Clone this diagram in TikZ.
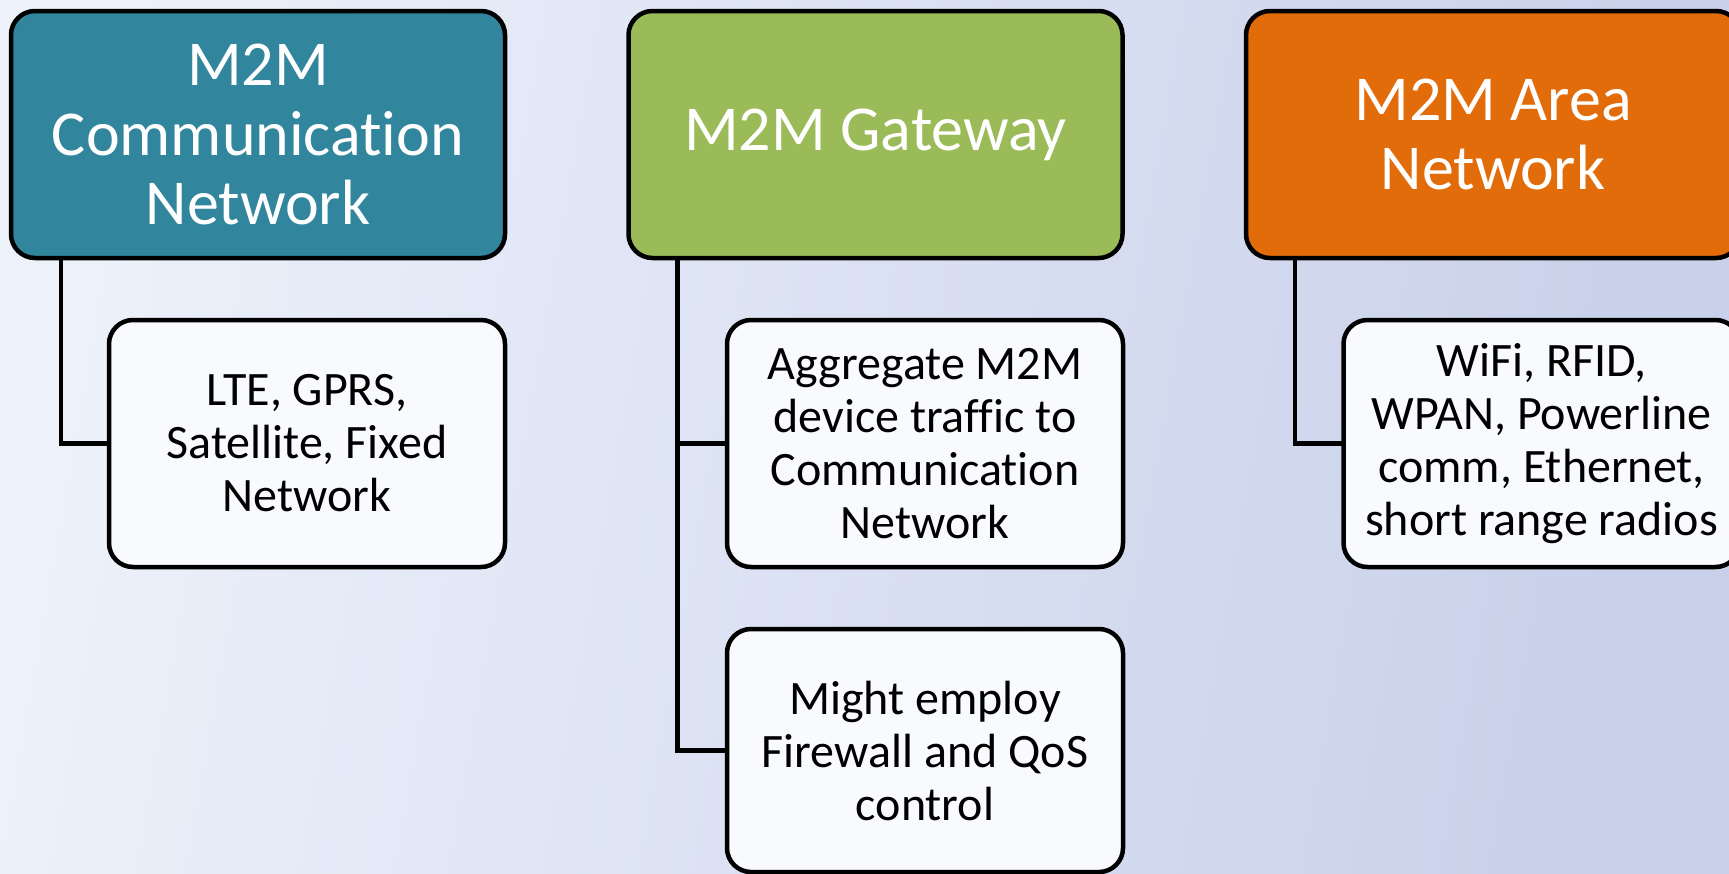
\documentclass[tikz,border=0pt]{standalone}
\usepackage{fontspec}
\setmainfont[Ligatures=NoCommon]{Carlito}
\definecolor{bgLeft}{HTML}{ECF1FA}
\definecolor{bgRight}{HTML}{C8D0EA}
\definecolor{tealHead}{HTML}{31859C}
\definecolor{greenHead}{HTML}{9BBB59}
\definecolor{orangeHead}{HTML}{E36C0A}
\definecolor{itemFill}{HTML}{F8FAFD}
\tikzset{
  headbox/.style={draw=black, line width=4.5pt, rounded corners=24pt,
    minimum width=494pt, minimum height=247pt, inner sep=0pt, outer sep=0pt,
    align=center, text=white, font=\fontsize{64}{69.5}\selectfont},
  itembox/.style={draw=black, line width=4.5pt, rounded corners=24pt, fill=itemFill,
    minimum width=396pt, minimum height=247pt, inner sep=0pt, outer sep=0pt,
    align=center, text=black, font=\fontsize{48}{53}\selectfont},
  link/.style={draw=black, line width=4.5pt}
}
\begin{document}
\begin{tikzpicture}[x=1pt,y=-1pt]
  \useasboundingbox (0,0) rectangle (1729,873);
  \clip (0,0) rectangle (1729,873);
  \shade[left color=bgLeft, right color=bgRight, shading angle=80] (0,0) rectangle (1729,873);

  % column 1: communication network
  \node[headbox, fill=tealHead] (h1) at (258,134.5) {M2M\\Communication\\Network};
  \node[itembox] (c1) at (307,443.5) {LTE, GPRS,\\Satellite, Fixed\\Network};
  \draw[link] ([xshift=50pt]h1.south west) |- (c1.west);

  % column 2: gateway
  \node[headbox, fill=greenHead] (h2) at (875.5,134.5) {M2M Gateway};
  \node[itembox] (c2a) at (925,443.5) {Aggregate M2M\\device traffic to\\Communication\\Network};
  \node[itembox, minimum height=243pt] (c2b) at (925,750.5) {Might employ\\Firewall and QoS\\control};
  \draw[link] ([xshift=49pt]h2.south west) |- (c2a.west);
  \draw[link] ([xshift=49pt]h2.south west) |- (c2b.west);

  % column 3: area network
  \node[headbox, fill=orangeHead] (h3) at (1493,134.5) {M2M Area\\Network};
  \node[itembox] (c3) at (1541.5,443.5) {WiFi, RFID,\\WPAN, Powerline\\comm, Ethernet,\\short range radios};
  \draw[link] ([xshift=49pt]h3.south west) |- (c3.west);
\end{tikzpicture}
\end{document}
